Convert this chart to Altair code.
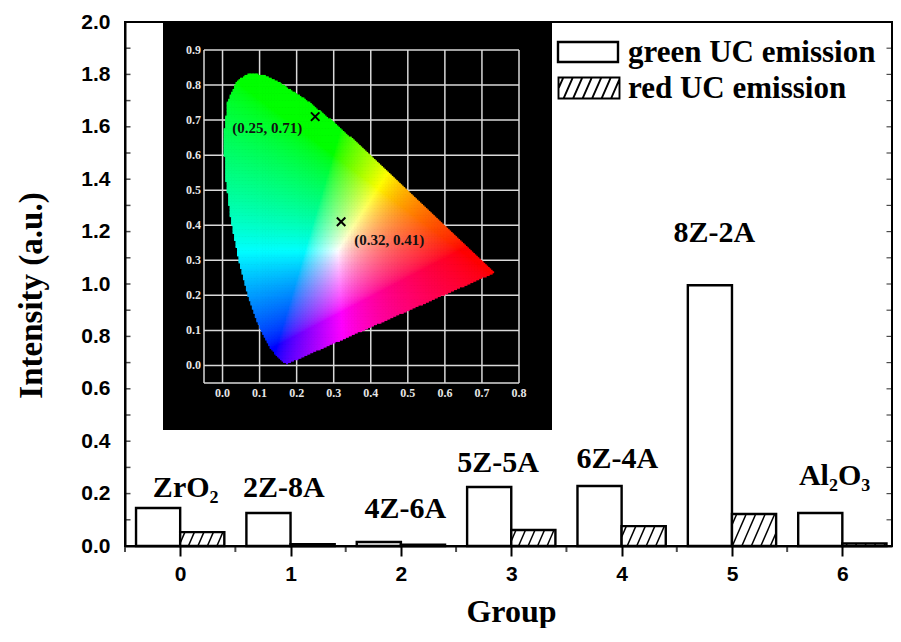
import altair as alt
import numpy as np
import pandas as pd

alt.data_transformers.disable_max_rows()

# ---------------- main bar chart data ----------------
groups = [0, 1, 2, 3, 4, 5, 6]
sample_names = ["ZrO\u2082", "2Z-8A", "4Z-6A", "5Z-5A", "6Z-4A", "8Z-2A", "Al\u2082O\u2083"]
green_uc = [0.145, 0.126, 0.015, 0.225, 0.229, 0.995, 0.126]
red_uc = [0.053, 0.007, 0.005, 0.061, 0.076, 0.122, 0.010]
label_x = [0.05, 0.94, 2.04, 2.88, 3.96, 4.84, 5.93]
label_y = [0.187, 0.187, 0.107, 0.282, 0.297, 1.160, 0.232]
y_major = [0.0, 0.2, 0.4, 0.6, 0.8, 1.0, 1.2, 1.4, 1.6, 1.8, 2.0]
y_all_ticks = [0.0, 0.1, 0.2, 0.3, 0.4, 0.5, 0.6, 0.7, 0.8, 0.9, 1.0,
               1.1, 1.2, 1.3, 1.4, 1.5, 1.6, 1.7, 1.8, 1.9, 2.0]
x_minor = [-0.5, 0.5, 1.5, 2.5, 3.5, 4.5, 5.5]
legend_labels = ["green UC emission", "red UC emission"]

# ---------------- inset (CIE 1931) data ----------------
cie_x_ticks = [0.0, 0.1, 0.2, 0.3, 0.4, 0.5, 0.6, 0.7, 0.8]
cie_y_ticks = [0.0, 0.1, 0.2, 0.3, 0.4, 0.5, 0.6, 0.7, 0.8, 0.9]
locus_x = [0.1741, 0.1714, 0.1644, 0.1566, 0.1440, 0.1241, 0.1096, 0.0913, 0.0687,
           0.0454, 0.0235, 0.0082, 0.0039, 0.0139, 0.0389, 0.0743, 0.1142, 0.1547,
           0.2296, 0.3016, 0.3731, 0.4441, 0.5125, 0.5752, 0.6270, 0.6658, 0.6915,
           0.7190, 0.7347]
locus_y = [0.0050, 0.0051, 0.0109, 0.0177, 0.0297, 0.0578, 0.0868, 0.1327, 0.2007,
           0.2950, 0.4127, 0.5384, 0.6548, 0.7502, 0.8120, 0.8338, 0.8262, 0.8059,
           0.7543, 0.6923, 0.6245, 0.5547, 0.4866, 0.4242, 0.3725, 0.3340, 0.3083,
           0.2809, 0.2653]
cie_pt_x = [0.25, 0.32]
cie_pt_y = [0.71, 0.41]
cie_pt_labels = ["(0.25, 0.71)", "(0.32, 0.41)"]
cie_lab_x = [0.121, 0.45]
cie_lab_y = [0.662, 0.343]

# ---------------- layout / style constants ----------------
W, H = 767, 524
BAR_W = 0.4
X_DOM = [-0.5, 6.45]
Y_DOM = [0.0, 2.0]
SX = W / (X_DOM[1] - X_DOM[0])
SY = H / (Y_DOM[1] - Y_DOM[0])
SERIF = "Liberation Serif"
SANS = "Liberation Sans"
HATCH_K = 2.3
HATCH_SP = 9.5

xs = alt.Scale(domain=X_DOM, nice=False, zero=False)
ys = alt.Scale(domain=Y_DOM, nice=False, zero=False)

x_axis = alt.Axis(values=groups, format="d", tickSize=10, tickWidth=2, tickColor="black",
                  domainColor="black", domainWidth=2, grid=False,
                  labelFont=SANS, labelFontSize=21, labelFontWeight="bold", labelColor="black",
                  labelPadding=7, labelFlush=False,
                  title="Group", titleFont=SERIF, titleFontSize=32, titleFontWeight="bold",
                  titleColor="black", titleX=386, titleY=75, titleBaseline="alphabetic",
                  titleAlign="center")
y_axis = alt.Axis(values=y_major, format=".1f", ticks=False, tickSize=0,
                  domainColor="black", domainWidth=2, grid=False,
                  labelFont=SANS, labelFontSize=21, labelFontWeight="bold", labelColor="black",
                  labelPadding=15, labelFlush=False,
                  title="Intensity (a.u.)", titleFont=SERIF, titleFontSize=33,
                  titleFontWeight="bold", titleColor="black", titleAngle=270,
                  titleX=-94, titleY=273, titleAlign="center", titleBaseline="middle")


def X(field):
    return alt.X(field, scale=xs, axis=x_axis)


def Y(field):
    return alt.Y(field, scale=ys, axis=y_axis)


bars = pd.DataFrame({"g": groups, "green": green_uc, "red": red_uc})
base = alt.Chart(bars).transform_calculate(
    gl=f"datum.g - {BAR_W}", gr="datum.g", rr=f"datum.g + {BAR_W}")

green_layer = base.mark_rect(fill="white", stroke="black", strokeWidth=2.4).encode(
    x=X("gl:Q"), x2="gr:Q", y=Y("green:Q"), y2=alt.datum(0))
red_fill = base.mark_rect(fill="white", strokeWidth=0).encode(
    x=X("gr:Q"), x2="rr:Q", y=Y("red:Q"), y2=alt.datum(0))


def hatch_segments(g, red):
    segs = []
    wpx = BAR_W * SX
    hpx = red * SY
    if hpx < 2:
        return segs
    c = -hpx / HATCH_K + HATCH_SP / 2
    while c < wpx:
        u0 = max(c, 0.0)
        u1 = min(c + hpx / HATCH_K, wpx)
        if u1 - u0 > 0.4:
            v0 = HATCH_K * (u0 - c)
            v1 = HATCH_K * (u1 - c)
            segs.append({"x0": g + u0 / SX, "y0": v0 / SY, "x1": g + u1 / SX, "y1": v1 / SY})
        c += HATCH_SP
    return segs


hatch_rows = []
for g, r in zip(groups, red_uc):
    hatch_rows += hatch_segments(g, r)
hatch_df = pd.DataFrame(hatch_rows)
hatch_layer = alt.Chart(hatch_df).mark_rule(stroke="black", strokeWidth=1.5).encode(
    x=X("x0:Q"), y=Y("y0:Q"), x2="x1:Q", y2="y1:Q")
red_stroke = base.mark_rect(fillOpacity=0, stroke="black", strokeWidth=2.4).encode(
    x=X("gr:Q"), x2="rr:Q", y=Y("red:Q"), y2=alt.datum(0))

ytick_df = pd.DataFrame({"v": y_all_ticks})
ytick_left = alt.Chart(ytick_df).mark_tick(orient="horizontal", size=5, thickness=1.5,
                                           color="black").encode(
    y=Y("v:Q"), x=alt.value(3.0))
ytick_right = alt.Chart(ytick_df).mark_tick(orient="horizontal", size=5, thickness=1.2,
                                            color="black").encode(
    y=Y("v:Q"), x=alt.value(W - 3.0))
xminor_df = pd.DataFrame({"v": x_minor})
xtick_minor = alt.Chart(xminor_df).mark_tick(orient="vertical", size=6, thickness=2,
                                             color="black").encode(
    x=X("v:Q"), y=alt.value(H + 3.0))

labels_df = pd.DataFrame({"t": sample_names, "lx": label_x, "ly": label_y})
group_labels = alt.Chart(labels_df).mark_text(
    font=SERIF, fontSize=30, fontWeight="bold", color="black",
    align="center", baseline="alphabetic").encode(
    x=X("lx:Q"), y=Y("ly:Q"), text="t:N")

# ---------------- inset: its own linear axes mapped into the plot ----------------
IX_DOM = [-0.05, 0.8]
IY_DOM = [-0.05, 0.9]
IX_PX = [79, 394]     # pixel span of the inset frame (plot coords)
IY_PX = [361, 28]
KX = (IX_PX[1] - IX_PX[0]) / (IX_DOM[1] - IX_DOM[0])
KY = (IY_PX[1] - IY_PX[0]) / (IY_DOM[1] - IY_DOM[0])


def ix(e):
    return f"{X_DOM[0]} + ({IX_PX[0]} + (({e}) - ({IX_DOM[0]})) * {KX}) / {SX}"


def iy(e):
    return f"({H} - ({IY_PX[0]} + (({e}) - ({IY_DOM[0]})) * {KY})) / {SY}"


one = pd.DataFrame({"k": [0]})
inset_bg = alt.Chart(one).mark_rect(color="black").encode(
    x=alt.value(38), x2=alt.value(427), y=alt.value(0), y2=alt.value(408))

vgrid = pd.DataFrame({"gx": [IX_DOM[0]] + cie_x_ticks})
hgrid = pd.DataFrame({"gy": [IY_DOM[0]] + cie_y_ticks})
grid_v = alt.Chart(vgrid).transform_calculate(
    px=ix("datum.gx"), pa=iy(str(IY_DOM[0])), pb=iy(str(IY_DOM[1]))
).mark_rule(stroke="#d9d9d9", strokeWidth=1.5).encode(
    x=X("px:Q"), y=Y("pa:Q"), y2="pb:Q")
grid_h = alt.Chart(hgrid).transform_calculate(
    py=iy("datum.gy"), pa=ix(str(IX_DOM[0])), pb=ix(str(IX_DOM[1]))
).mark_rule(stroke="#d9d9d9", strokeWidth=1.5).encode(
    y=Y("py:Q"), x=X("pa:Q"), x2="pb:Q")


def in_poly(px, py, vx, vy):
    inside = np.zeros(px.shape, dtype=bool)
    n = len(vx)
    j = n - 1
    for i in range(n):
        xi, yi, xj, yj = vx[i], vy[i], vx[j], vy[j]
        cond = ((yi > py) != (yj > py)) & (px < (xj - xi) * (py - yi) / (yj - yi + 1e-12) + xi)
        inside ^= cond
        j = i
    return inside


STEP = 0.004
gx_, gy_ = np.meshgrid(np.arange(0.0, 0.75, STEP) + STEP / 2,
                       np.arange(0.0, 0.85, STEP) + STEP / 2)
msk = in_poly(gx_, gy_, np.array(locus_x), np.array(locus_y))
cx = gx_[msk]
cy = gy_[msk]
XX = cx / cy
ZZ = (1 - cx - cy) / cy
rr_ = 3.2406 * XX - 1.5372 - 0.4986 * ZZ
gg_ = -0.9689 * XX + 1.8758 + 0.0415 * ZZ
bb_ = 0.0557 * XX - 0.2040 + 1.0570 * ZZ
rgb = np.clip(np.stack([rr_, gg_, bb_], 1), 0, None)
rgb = rgb / rgb.max(1, keepdims=True)
rgb = rgb ** (1 / 1.6)
hexes = ["#%02x%02x%02x" % tuple(int(round(255 * v)) for v in row) for row in rgb]
cells = pd.DataFrame({"a": np.round(cx, 4), "b": np.round(cy, 4), "c": hexes})
half = STEP * 0.72
cell_layer = alt.Chart(cells).transform_calculate(
    x0=ix(f"datum.a - {half}"), x1=ix(f"datum.a + {half}"),
    y0=iy(f"datum.b - {half}"), y1=iy(f"datum.b + {half}")).mark_rect(strokeWidth=0).encode(
    x=X("x0:Q"), x2="x1:Q", y=Y("y0:Q"), y2="y1:Q",
    color=alt.Color("c:N", scale=None))

xlab_df = pd.DataFrame({"v": cie_x_ticks})
ylab_df = pd.DataFrame({"v": cie_y_ticks})
inset_xlabels = alt.Chart(xlab_df).transform_calculate(
    px=ix("datum.v"), py=iy(str(IY_DOM[0])), t="format(datum.v, '.1f')"
).mark_text(font=SERIF, fontSize=12, fontWeight="bold", color="#e6e6e6",
            align="center", baseline="middle", dy=10).encode(
    x=X("px:Q"), y=Y("py:Q"), text="t:N")
inset_ylabels = alt.Chart(ylab_df).transform_calculate(
    px=ix(str(IX_DOM[0])), py=iy("datum.v"), t="format(datum.v, '.1f')"
).mark_text(font=SERIF, fontSize=12, fontWeight="bold", color="#e6e6e6",
            align="right", baseline="middle", dx=-3).encode(
    x=X("px:Q"), y=Y("py:Q"), text="t:N")

pts_df = pd.DataFrame({"cx": cie_pt_x, "cy": cie_pt_y})
cross = alt.Chart(pts_df).transform_calculate(
    px=ix("datum.cx"), py=iy("datum.cy")
).mark_point(shape="M-1,-1L1,1M-1,1L1,-1", size=72, filled=False,
             stroke="black", strokeWidth=2, opacity=1).encode(
    x=X("px:Q"), y=Y("py:Q"))
ptlab_df = pd.DataFrame({"t": cie_pt_labels, "lx": cie_lab_x, "ly": cie_lab_y})
pt_labels = alt.Chart(ptlab_df).transform_calculate(
    px=ix("datum.lx"), py=iy("datum.ly")
).mark_text(font=SERIF, fontSize=15, fontWeight="bold", color="#111111",
            align="center", baseline="alphabetic").encode(
    x=X("px:Q"), y=Y("py:Q"), text="t:N")

# ---------------- legend (drawn) ----------------


def legend_path(w=60.0, h=21.0, hatched=False):
    r = w / 2
    hy = h / 2 / r
    p = f"M-1,{-hy:.3f}H1V{hy:.3f}H-1Z"
    if hatched:
        c = -h / HATCH_K + HATCH_SP / 2
        while c < w:
            u0 = max(c, 0.0)
            u1 = min(c + h / HATCH_K, w)
            if u1 - u0 > 0.3:
                v0 = HATCH_K * (u0 - c)
                v1 = HATCH_K * (u1 - c)
                p += f"M{u0 / r - 1:.3f},{hy - v0 / r:.3f}L{u1 / r - 1:.3f},{hy - v1 / r:.3f}"
            c += HATCH_SP
    return p


leg_green_df = pd.DataFrame({"t": [legend_labels[0]]})
leg_red_df = pd.DataFrame({"t": [legend_labels[1]]})
leg_sym_g = alt.Chart(leg_green_df).mark_point(
    shape=legend_path(60, 20, False), size=3600, fill="white", fillOpacity=1,
    stroke="black", strokeWidth=2.4, opacity=1).encode(x=alt.value(463), y=alt.value(30))
leg_sym_r = alt.Chart(leg_red_df).mark_point(
    shape=legend_path(61, 21, True), size=61 * 61, fill="white", fillOpacity=1,
    stroke="black", strokeWidth=1.9, opacity=1).encode(x=alt.value(464), y=alt.value(66))
leg_txt_g = alt.Chart(leg_green_df).mark_text(
    font=SERIF, fontSize=31, fontWeight="bold", color="black", align="left",
    baseline="middle").encode(x=alt.value(503), y=alt.value(31), text="t:N")
leg_txt_r = alt.Chart(leg_red_df).mark_text(
    font=SERIF, fontSize=31, fontWeight="bold", color="black", align="left",
    baseline="middle").encode(x=alt.value(503), y=alt.value(67), text="t:N")

chart = alt.layer(
    green_layer, inset_bg, grid_v, grid_h, cell_layer, inset_xlabels, inset_ylabels,
    cross, pt_labels,
    red_fill, hatch_layer, red_stroke, ytick_left, ytick_right, xtick_minor, group_labels,
    leg_sym_g, leg_sym_r, leg_txt_g, leg_txt_r,
).properties(
    width=W, height=H,
    autosize=alt.AutoSizeParams(type="none"),
    padding={"left": 117, "top": 14, "right": 1, "bottom": 82},
    background="white",
).configure_view(stroke="black", strokeWidth=2)

chart.save("out.html", embed_options={"renderer": "svg", "actions": False})
